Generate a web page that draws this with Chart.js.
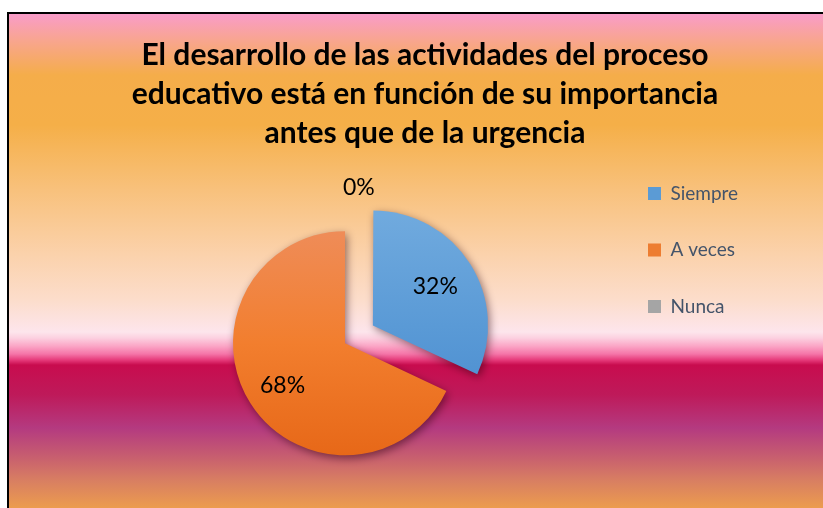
<!DOCTYPE html>
<html lang="es">
<head>
<meta charset="utf-8">
<title>Importancia antes que urgencia</title>
<script src="https://cdn.jsdelivr.net/npm/chart.js@4/dist/chart.umd.min.js"></script>
<style>
  html, body { margin: 0; padding: 0; overflow: hidden; background: #fff; }
  canvas { display: block; }
</style>
</head>
<body>
<canvas id="grafico" width="823" height="540"></canvas>
<script>
// Datos
const categorias = ['Siempre', 'A veces', 'Nunca'];
const porcentajes = [32, 68, 0];
const titulo = [
  'El desarrollo de las actividades del proceso',
  'educativo está en función de su importancia',
  'antes que de la urgencia'
];

// Colores
const coloresLeyenda = ['#5B9BD5', '#ED7D31', '#A5A5A5'];
const coloresArriba = ['#70AADE', '#EF8C58', '#B4B4B4'];
const coloresMedio = ['#5A9AD6', '#F27E2E', '#A5A5A5'];
const coloresAbajo = ['#4689CE', '#E76818', '#949494'];

const radio = 112;
const separacion = [132, 0, 0];

// Fondo degradado del área del gráfico (y absoluta, color)
const paradas = [
  [14, '#F99CC9'], [40, '#F8A590'], [75, '#F5AD4A'], [125, '#F5AF48'],
  [190, '#F8C17C'], [255, '#FBD2AC'], [300, '#FCDDCB'], [332, '#FDE5EC'],
  [338, '#FCD0E0'], [346, '#FBA6C6'], [354, '#F575A8'], [360, '#E63A7A'],
  [365, '#C80C4E'], [395, '#BE1A5A'], [428, '#B43A80'], [455, '#C65C70'],
  [480, '#D87E62'], [508, '#EC9C4E']
];

const canvas = document.getElementById('grafico');
const context = canvas.getContext('2d');

const degradadoPorcion = (c) => {
  const i = c.dataIndex;
  const area = c.chart.chartArea;
  if (!area) return coloresMedio[i];
  const cy = (area.top + area.bottom) / 2;
  const g = c.chart.ctx.createLinearGradient(0, cy - radio, 0, cy + radio);
  g.addColorStop(0, coloresArriba[i]);
  g.addColorStop(0.5, coloresMedio[i]);
  g.addColorStop(1, coloresAbajo[i]);
  return g;
};

const fondo = {
  id: 'fondo',
  beforeDraw(chart) {
    const ctx = chart.ctx;
    const w = chart.width, h = chart.height;
    ctx.save();
    ctx.fillStyle = '#ffffff';
    ctx.fillRect(0, 0, w, h);
    const g = ctx.createLinearGradient(0, 14, 0, 508);
    paradas.forEach(([y, col]) => g.addColorStop((y - 14) / (508 - 14), col));
    ctx.fillStyle = g;
    ctx.fillRect(9, 14, w - 9, h - 14);
    ctx.fillStyle = '#000000';
    ctx.fillRect(7, 12, w - 7, 2);
    ctx.fillRect(7, 12, 2, h - 12);
    ctx.restore();
  }
};

// caja vacía a la derecha de la leyenda, para centrar el título como en el original
const espaciador = {
  id: 'espaciador',
  beforeInit(chart) {
    Chart.layouts.addBox(chart, {
      position: 'right', weight: 2000, fullSize: false, options: {},
      left: 0, top: 0, right: 0, bottom: 0, width: 0, height: 0,
      isHorizontal: () => false,
      update(maxWidth, maxHeight) {
        this.width = Math.max(0, 160 - (chart.legend ? chart.legend.width : 0));
        this.height = maxHeight;
      },
      draw() {}
    });
  }
};

const etiquetas = {
  id: 'etiquetas',
  beforeDatasetsDraw(chart) {
    const ctx = chart.ctx;
    ctx.save();
    ctx.shadowColor = 'rgba(40, 0, 10, 0.5)';
    ctx.shadowBlur = 8;
    ctx.shadowOffsetX = 2;
    ctx.shadowOffsetY = 3;
  },
  afterDatasetsDraw(chart) {
    const ctx = chart.ctx;
    ctx.restore();
    const arcos = chart.getDatasetMeta(0).data;
    ctx.save();
    ctx.font = '23px Lato';
    ctx.fillStyle = '#000000';
    ctx.textBaseline = 'middle';
    arcos.forEach((arco, i) => {
      const medio = (arco.startAngle + arco.endAngle) / 2;
      const desp = (arco.options.offset || 0) / 4;
      const cx = arco.x + Math.cos(medio) * desp;
      const cy = arco.y + Math.sin(medio) * desp;
      const texto = porcentajes[i] + '%';
      if (porcentajes[i] > 0) {
        ctx.textAlign = 'center';
        ctx.fillText(texto, cx + Math.cos(medio) * arco.outerRadius * 0.66, cy + Math.sin(medio) * arco.outerRadius * 0.68 + 2);
      } else {
        ctx.textAlign = 'left';
        ctx.fillText(texto, cx + Math.cos(medio) * (arco.outerRadius + 44) - 2, cy + Math.sin(medio) * (arco.outerRadius + 44));
      }
    });
    ctx.restore();
  }
};

const chart = new Chart(context, {
  type: 'pie',
  data: {
    labels: categorias,
    datasets: [{
      data: porcentajes,
      backgroundColor: degradadoPorcion,
      borderWidth: 0,
      offset: separacion,
      hoverOffset: 0,
      radius: radio
    }]
  },
  options: {
    responsive: false,
    animation: false,
    events: [],
    layout: { padding: { left: 79.5, right: 52.5, top: 0, bottom: 0 } },
    plugins: {
      title: {
        display: true,
        text: titulo,
        color: '#000000',
        font: { family: 'Lato', size: 30, weight: 'bold', lineHeight: 1.3 },
        padding: { top: 36, bottom: -6.5 }
      },
      legend: {
        position: 'right',
        align: 'start',
        fullSize: false,
        labels: {
          boxWidth: 13,
          boxHeight: 13,
          padding: 37.5,
          color: '#44546A',
          font: { family: "'Comic Sans MS', Lato", size: 19 },
          generateLabels: (ch) => Chart.overrides.pie.plugins.legend.labels.generateLabels(ch)
            .map((item, i) => ({ ...item, fillStyle: coloresLeyenda[i], strokeStyle: coloresLeyenda[i], lineWidth: 0 }))
        }
      },
      tooltip: { enabled: false }
    }
  },
  plugins: [fondo, espaciador, etiquetas]
});
</script>
</body>
</html>
